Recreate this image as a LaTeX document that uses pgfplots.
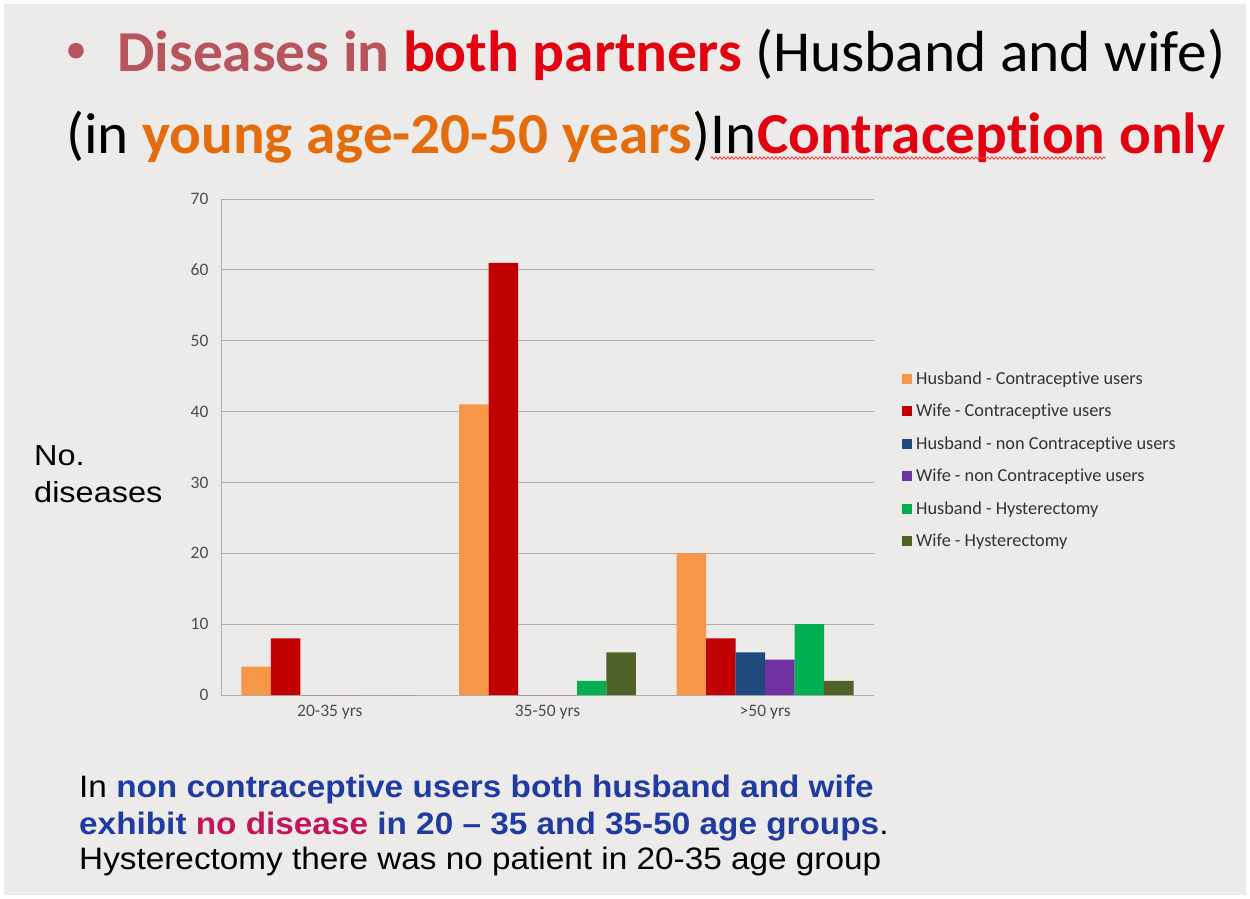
\documentclass[border=0pt]{standalone}
\usepackage{pgfplots}
\pgfplotsset{compat=1.18}
\usepackage{fontspec}
\setmainfont{Carlito}[Ligatures={NoCommon}]
\newfontfamily\arial{Liberation Sans}
\usetikzlibrary{decorations.pathmorphing}
\definecolor{bg}{RGB}{236,235,233}
\definecolor{cOrange}{RGB}{247,150,70}
\definecolor{cRed}{RGB}{192,0,0}
\definecolor{cBlue}{RGB}{31,73,125}
\definecolor{cPurple}{RGB}{112,48,160}
\definecolor{cGreen}{RGB}{0,176,80}
\definecolor{cDkGreen}{RGB}{79,98,40}
\definecolor{tRose}{RGB}{184,84,92}
\definecolor{tRed}{RGB}{226,0,16}
\definecolor{tOrange}{RGB}{228,108,10}
\definecolor{tBlue}{RGB}{32,60,160}
\definecolor{tCrimson}{RGB}{196,20,90}
\begin{document}
\begin{tikzpicture}[x=1pt,y=1pt]
\fill[white] (0,0) rectangle (1250,-899);
\fill[bg] (4,-4) rectangle (1246,-895);
% title line 1
\node[anchor=center, inner sep=0, font=\fontsize{44}{50}\selectfont, text=tRose] at (76,-53) {•};
\node[anchor=base west, inner sep=0, font=\fontsize{58}{68}\selectfont] at (117,-71)
  {\scalebox{1.025}[1]{\textcolor{tRose}{\textbf{Diseases in}} \textcolor{tRed}{\textbf{both partners}} (Husband and wife)}};
% title line 2
\node[anchor=base west, inner sep=0, font=\fontsize{58}{68}\selectfont] (A) at (66,-153)
  {\scalebox{1.02}[1]{(in \textcolor{tOrange}{\textbf{young age-20-50 years}})}};
\node[anchor=base west, inner sep=0, font=\fontsize{58}{68}\selectfont] (B) at (A.base east) {\scalebox{1.02}[1]{In}};
\node[anchor=base west, inner sep=0, font=\fontsize{58}{68}\selectfont] (C) at (B.base east) {\scalebox{1.02}[1]{\textcolor{tRed}{\textbf{Contraception}}}};
\node[anchor=base west, inner sep=0, font=\fontsize{58}{68}\selectfont] (D) at (C.base east) {\scalebox{1.02}[1]{\textcolor{tRed}{\textbf{\ only}}}};
\draw[red!80, line width=0.8pt, decorate, decoration={snake, amplitude=1.2pt, segment length=4pt}]
  ([yshift=-5pt]B.base west) -- ([yshift=-5pt]C.base east);
% y label
\node[anchor=base west, inner sep=0, font=\arial\fontsize{29}{34}\selectfont] at (34,-465) {\scalebox{1.12}[1]{No.}};
\node[anchor=base west, inner sep=0, font=\arial\fontsize{29}{34}\selectfont] at (34,-502) {\scalebox{1.12}[1]{diseases}};
% bottom text
\node[anchor=base west, inner sep=0, font=\arial\fontsize{31}{36}\selectfont] at (79,-797)
  {\scalebox{1.075}[1]{In \textcolor{tBlue}{\textbf{non contraceptive users both husband and wife}}}};
\node[anchor=base west, inner sep=0, font=\arial\fontsize{31}{36}\selectfont] at (79,-834)
  {\scalebox{1.075}[1]{\textcolor{tBlue}{\textbf{exhibit }}\textcolor{tCrimson}{\textbf{no disease}}\textcolor{tBlue}{\textbf{ in 20 – 35 and 35-50 age groups}}.}};
\node[anchor=base west, inner sep=0, font=\arial\fontsize{31}{36}\selectfont] at (79,-869)
  {\scalebox{1.075}[1]{Hysterectomy there was no patient in 20-35 age group}};
\begin{axis}[
  at={(221pt,-695pt)}, anchor=south west,
  width=653pt, height=496pt, scale only axis,
  xmin=-0.5, xmax=2.5, ymin=0, ymax=70,
  ytick={0,10,...,70}, xtick={0,1,2},
  xticklabels={20-35 yrs,35-50 yrs,>50 yrs},
  ybar=0pt, bar width=0.1355,
  ymajorgrids, grid style={gray!65, line width=0.9pt},
  axis x line*=bottom, axis y line*=left,
  axis line style={-, gray!65, line width=0.9pt},
  major tick length=0pt,
  /pgf/number format/assume math mode=true,
  tick label style={font=\fontsize{17.5}{20}\selectfont, text=black!70},
  yticklabel style={xshift=-9pt},
  xticklabel style={yshift=-7pt},
  legend style={at={(1.042,0.652)}, anchor=north west, draw=none, fill=none,
    font=\fontsize{18.3}{21}\selectfont, text=black!80, row sep=18.3pt, inner sep=0pt,
    nodes={inner xsep=4.5pt, inner ysep=0pt}},
  legend cell align=left,
  legend image code/.code={\fill[#1] (0pt,-5pt) rectangle (10pt,5pt);},
]
\addplot[fill=cOrange, draw=none] coordinates {(0,4) (1,41) (2,20)};
\addplot[fill=cRed, draw=none] coordinates {(0,8) (1,61) (2,8)};
\addplot[fill=cBlue, draw=none] coordinates {(0,0) (1,0) (2,6)};
\addplot[fill=cPurple, draw=none] coordinates {(0,0) (1,0) (2,5)};
\addplot[fill=cGreen, draw=none] coordinates {(0,0) (1,2) (2,10)};
\addplot[fill=cDkGreen, draw=none] coordinates {(0,0) (1,6) (2,2)};
\legend{Husband - Contraceptive users, Wife - Contraceptive users, Husband - non Contraceptive users, Wife - non Contraceptive users, Husband - Hysterectomy, Wife - Hysterectomy}
\end{axis}
\end{tikzpicture}
\end{document}
